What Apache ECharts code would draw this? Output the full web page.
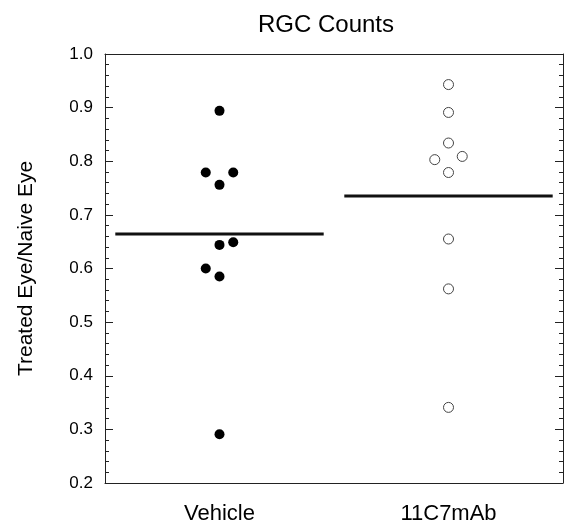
<!DOCTYPE html>
<html>
<head>
<meta charset="utf-8">
<script src="https://cdn.jsdelivr.net/npm/echarts@6/dist/echarts.min.js"></script>
<style>
  html, body { margin: 0; padding: 0; background: #fff; }
  #chart { width: 566px; height: 529px; }
</style>
</head>
<body>
<div id="chart"></div>
<script>
// group names and their x positions
var categories = ['Vehicle', '11C7mAb'];
var groupPos = [1, 3];

// treated / naive ratios
var vehicleValues = [0.894, 0.779, 0.779, 0.756, 0.649, 0.644, 0.600, 0.585, 0.291];
var vehicleJitter = [0, -1, 1, 0, 1, 0, -1, 0, 0];
var mabValues = [0.943, 0.891, 0.834, 0.809, 0.803, 0.779, 0.655, 0.562, 0.341];
var mabJitter = [0, 0, 0, 1, -1, 0, 0, 0, 0];

var yTicks = [0.2, 0.3, 0.4, 0.5, 0.6, 0.7, 0.8, 0.9, 1.0];

var JIT = 0.12;      // jitter step in x units
var HALF = 0.91;     // half width of the mean line
var FONT = 'Liberation Sans, Arial, Helvetica, sans-serif';
var AXC = '#222';

function points(values, jitter, x) {
  var out = [];
  for (var i = 0; i < values.length; i++) {
    out.push([x + jitter[i] * JIT, values[i]]);
  }
  return out;
}

function mean(arr) {
  var s = 0;
  for (var i = 0; i < arr.length; i++) s += arr[i];
  return s / arr.length;
}

function meanLine(values, x) {
  var m = mean(values);
  return {
    type: 'line',
    data: [[x - HALF, m], [x + HALF, m]],
    symbol: 'none',
    lineStyle: { color: '#111', width: 3 },
    silent: true,
    z: 1
  };
}

var chart = echarts.init(document.getElementById('chart'));

chart.setOption({
  animation: false,
  backgroundColor: '#fff',
  title: {
    text: 'RGC Counts',
    left: 321,
    top: 8,
    textAlign: 'center',
    textStyle: { fontFamily: FONT, fontSize: 24, fontWeight: 'normal', color: '#000' }
  },
  grid: { left: 105, right: 3, top: 54, bottom: 46 },
  xAxis: [{
    type: 'value',
    min: 0,
    max: 4,
    interval: 1,
    axisLine: { show: true, onZero: false, lineStyle: { color: AXC, width: 1 } },
    axisTick: { show: false },
    splitLine: { show: false },
    axisLabel: {
      margin: 20,
      fontFamily: FONT,
      fontSize: 22,
      color: '#000',
      formatter: function (v) {
        var i = groupPos.indexOf(v);
        return i >= 0 ? categories[i] : '';
      }
    }
  }, {
    type: 'value',
    position: 'top',
    min: 0,
    max: 4,
    axisLine: { show: true, onZero: false, lineStyle: { color: AXC, width: 1 } },
    axisTick: { show: false },
    axisLabel: { show: false },
    splitLine: { show: false }
  }],
  yAxis: [{
    type: 'value',
    min: yTicks[0],
    max: yTicks[yTicks.length - 1],
    interval: 0.1,
    name: 'Treated Eye/Naive Eye',
    nameLocation: 'middle',
    nameGap: 68,
    nameTextStyle: { fontFamily: FONT, fontSize: 21, color: '#000' },
    axisLine: { show: true, onZero: false, lineStyle: { color: AXC, width: 1 } },
    axisTick: { show: true, inside: true, length: 8, lineStyle: { color: AXC } },
    minorTick: { show: true, splitNumber: 5, length: 4, lineStyle: { color: AXC } },
    splitLine: { show: false },
    axisLabel: {
      margin: 12,
      fontFamily: FONT,
      fontSize: 17,
      color: '#000',
      formatter: function (v) { return v.toFixed(1); }
    }
  }, {
    type: 'value',
    position: 'right',
    min: yTicks[0],
    max: yTicks[yTicks.length - 1],
    interval: 0.1,
    axisLine: { show: true, onZero: false, lineStyle: { color: AXC, width: 1 } },
    axisTick: { show: true, inside: true, length: 8, lineStyle: { color: AXC } },
    minorTick: { show: true, splitNumber: 5, length: 4, lineStyle: { color: AXC } },
    splitLine: { show: false },
    axisLabel: { show: false }
  }],
  series: [
    meanLine(vehicleValues, groupPos[0]),
    meanLine(mabValues, groupPos[1]),
    {
      type: 'scatter',
      data: points(vehicleValues, vehicleJitter, groupPos[0]),
      symbol: 'circle',
      symbolSize: 10,
      itemStyle: { color: '#000', opacity: 1 },
      z: 3
    },
    {
      type: 'scatter',
      data: points(mabValues, mabJitter, groupPos[1]),
      symbol: 'circle',
      symbolSize: 10,
      itemStyle: { color: '#fff', borderColor: '#444', borderWidth: 1, opacity: 1 },
      z: 3
    }
  ]
});
</script>
</body>
</html>
